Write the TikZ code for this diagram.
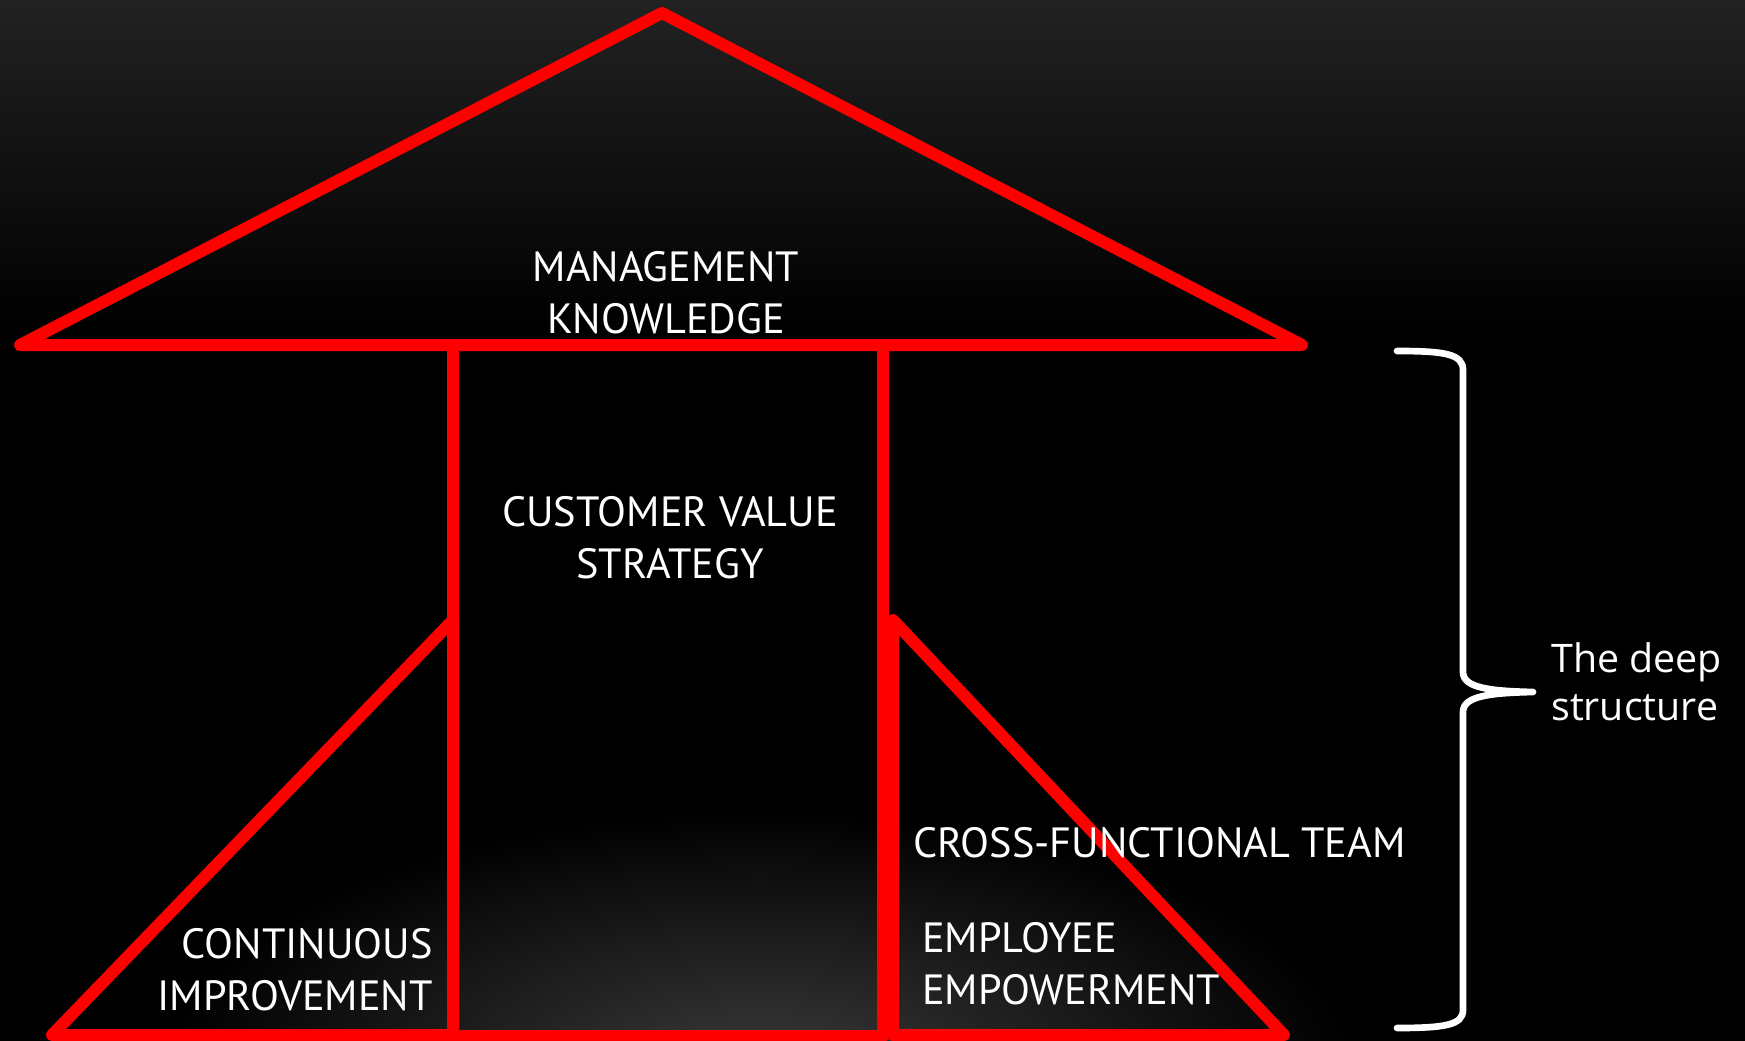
\documentclass[tikz,border=0pt]{standalone}
\usepackage{fontspec}
\setmainfont{PT Sans}
\newfontfamily\deepfont{Open Sans}
\definecolor{bgtop}{RGB}{34,34,34}
\definecolor{glow}{RGB}{58,58,58}
\definecolor{housered}{RGB}{255,0,0}
\begin{document}
\begin{tikzpicture}[x=0.75pt,y=-0.75pt,
  redline/.style={draw=housered, line width=9pt, line join=round, line cap=round},
  lbl/.style={text=white, font=\fontsize{31.7}{39}\selectfont, inner sep=0pt},
  bracestyle/.style={draw=white, line width=5pt, line cap=round, line join=round}]
\useasboundingbox (0,0) rectangle (1745,1041);
\begin{scope}
\clip (0,0) rectangle (1745,1041);
\fill[black] (0,0) rectangle (1745,1041);
\shade[top color=bgtop, bottom color=black] (0,0) rectangle (1745,330);
\shade[inner color=glow, outer color=black] (760,1070) ellipse [x radius=600, y radius=260];
\end{scope}
% roof
\draw[redline] (20,345) -- (662,13) -- (1302,345) -- cycle;
% central pillar block
\draw[redline] (453,345) -- (453,1036) -- (883,1036) -- (883,345);
% left triangle
\draw[redline] (52,1035) -- (453,620) -- (453,1035) -- cycle;
% right triangle
\draw[redline] (893,620) -- (1284,1035) -- (893,1035) -- cycle;
% labels
\node[lbl, align=center] (mgmt) at (666,293) {MANAGEMENT\\KNOWLEDGE};
\node[lbl, align=center] (cvs) at (670,538) {CUSTOMER VALUE\\STRATEGY};
\node[lbl, align=right, anchor=east] (ci) at (433,970) {CONTINUOUS\\IMPROVEMENT};
\node[lbl, anchor=west] (cft) at (913,843) {CROSS-FUNCTIONAL TEAM};
\node[lbl, align=left, anchor=west] (ee) at (922,964) {EMPLOYEE\\EMPOWERMENT};
\node[lbl, align=left, anchor=west, font=\deepfont\fontsize{29.5}{36}\selectfont] (deep) at (1551,682) {The deep\\structure};
% brace
\draw[bracestyle] (1397,351) .. controls (1445,351) and (1463,354) .. (1463,370)
  -- (1463,672) .. controls (1463,688) and (1490,691) .. (1533,692)
  .. controls (1490,693) and (1463,696) .. (1463,712)
  -- (1463,1010) .. controls (1463,1025) and (1445,1028) .. (1397,1028);
\end{tikzpicture}
\end{document}
